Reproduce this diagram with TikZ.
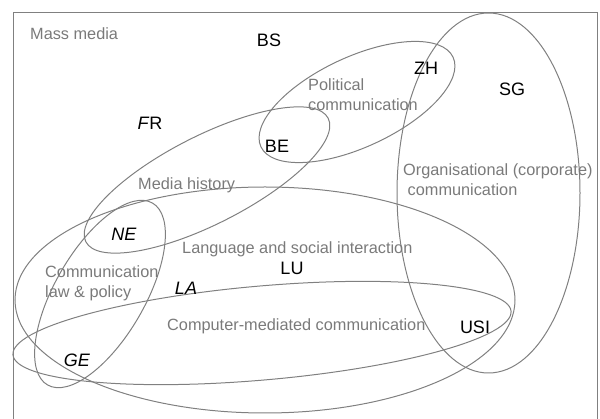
\documentclass[tikz,border=0pt]{standalone}
\usepackage{fontspec}
\setmainfont{Liberation Sans}
\definecolor{fieldgray}{RGB}{128,128,128}
\definecolor{textgray}{RGB}{122,122,122}

\begin{document}
\begin{tikzpicture}[x=1pt, y=-1pt,
    field/.style={draw=fieldgray, line width=1pt},
    topic/.style={text=textgray, font=\fontsize{16.3}{20.5}\selectfont, inner sep=0pt, align=left},
    place/.style={font=\fontsize{18}{21}\selectfont, inner sep=0pt}]

    \useasboundingbox (0,0) rectangle (600,419);
    \draw[field] (13,419) -- (13,13) -- (597,13) -- (597,419);

    \draw[field] (488.5,193) ellipse (91.5 and 180);
    \draw[field] (265,300) ellipse (250 and 113);
    \draw[field, rotate around={5:(262,333)}] (262,333) ellipse (250 and 47);
    \draw[field, rotate around={25:(357,102)}] (357,102) ellipse (106 and 45);
    \draw[field, rotate around={27:(207,180)}] (207,180) ellipse (136 and 44);
    \draw[field, rotate around={60:(100,294)}] (100,294) ellipse (105 and 45);

    \node[topic, anchor=base west] (massmedia) at (30,40) {Mass media};
    \node[topic, anchor=base west] (history) at (138,190) {Media history};
    \node[topic, anchor=base west] (language) at (182,254) {Language and social interaction};
    \node[topic, anchor=base west] (cmc) at (167,331) {Computer-mediated communication};
    \node[topic, anchor=north west] (political) at (308,78) {Political\\communication};
    \node[topic, anchor=north west] (organisational) at (403,163) {Organisational (corporate)\\\ communication};
    \node[topic, anchor=north west] (law) at (45,265) {Communication\\law \& policy};

    \node[place] (bs) at (269,40) {BS};
    \node[place] (fr) at (150,123) {\textit{F}R};
    \node[place] (be) at (277,146) {BE};
    \node[place] (zh) at (426,68) {ZH};
    \node[place] (sg) at (512,89) {SG};
    \node[place] (ne) at (124,234) {\textit{NE}};
    \node[place] (lu) at (292,268) {LU};
    \node[place] (la) at (186,288) {\textit{LA}};
    \node[place] (usi) at (475,327) {USI};
    \node[place] (ge) at (77,360) {\textit{GE}};

\end{tikzpicture}
\end{document}
